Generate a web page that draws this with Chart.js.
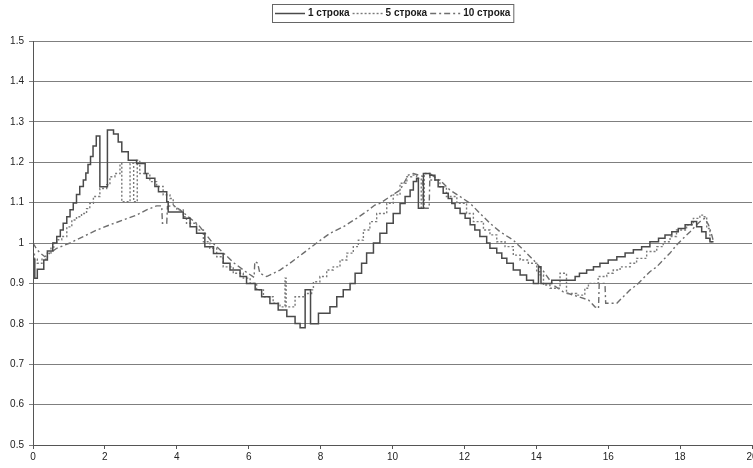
<!DOCTYPE html>
<html>
<head>
<meta charset="utf-8">
<script src="https://cdn.jsdelivr.net/npm/chart.js@4.4.1/dist/chart.umd.min.js"></script>
<style>
  html, body { margin: 0; padding: 0; background: #fff; overflow: hidden; }
  #wrap { width: 753px; height: 468px; }
</style>
</head>
<body>
<div id="wrap"><canvas id="c" width="753" height="468"></canvas></div>
<script>
// ---- data ----
const seriesLabels = ['1 строка', '5 строка', '10 строка'];
const xTickValues = [0, 2, 4, 6, 8, 10, 12, 14, 16, 18, 20];
const yTickLabels = ['0.5', '0.6', '0.7', '0.8', '0.9', '1', '1.1', '1.2', '1.3', '1.4', '1.5'];

// [x, y] pairs, each y holds from its x until the next x (steps)
const row1 = [
  [0,1.0],[0.05,0.96],[0.12,0.913],[0.3,0.935],[0.4,0.958],[0.55,0.98],[0.66,1.0],[0.76,1.016],
  [0.84,1.032],[0.94,1.049],[1.03,1.065],[1.12,1.082],[1.21,1.099],[1.3,1.12],[1.4,1.14],[1.47,1.156],
  [1.53,1.173],[1.6,1.194],[1.67,1.214],[1.76,1.24],[1.86,1.265],[2.07,1.139],[2.24,1.28],[2.37,1.27],
  [2.47,1.25],[2.65,1.226],[2.88,1.205],[3.12,1.197],[3.16,1.172],[3.39,1.16],[3.49,1.14],[3.72,1.127],
  [3.76,1.102],[4.18,1.077],[4.37,1.061],[4.55,1.04],[4.78,1.024],[5.02,0.991],[5.29,0.974],[5.48,0.95],
  [5.76,0.933],[5.94,0.917],[6.18,0.9],[6.36,0.884],[6.59,0.867],[6.82,0.85],[7.06,0.834],[7.29,0.818],
  [7.43,0.801],[7.57,0.79],[7.72,0.884],[7.94,0.80],[8.26,0.826],[8.45,0.842],[8.63,0.867],[8.82,0.884],
  [8.96,0.9],[9.14,0.925],[9.28,0.95],[9.47,0.975],[9.65,1.0],[9.84,1.024],[10.02,1.049],[10.21,1.073],
  [10.35,1.098],[10.49,1.115],[10.58,1.131],[10.67,1.152],[10.72,1.16],[10.86,1.086],[11.04,1.172],
  [11.18,1.168],[11.27,1.156],[11.41,1.139],[11.55,1.123],[11.65,1.11],[11.74,1.098],[11.88,1.086],
  [12.02,1.073],[12.16,1.061],[12.29,1.045],[12.43,1.032],[12.62,1.016],[12.71,1.0],[12.9,0.987],
  [13.04,0.975],[13.18,0.962],[13.36,0.95],[13.55,0.933],[13.73,0.921],[13.92,0.908],[14.06,0.9],
  [14.13,0.941],[14.43,0.9],[15.08,0.908],[15.2,0.917],[15.4,0.925],[15.59,0.933],[15.77,0.941],
  [16.0,0.95],[16.24,0.958],[16.47,0.966],[16.7,0.975],[16.93,0.983],[17.16,0.991],[17.4,1.003],
  [17.58,1.012],[17.77,1.02],[17.95,1.028],[18.14,1.036],[18.32,1.045],[18.46,1.053],[18.6,1.04],
  [18.72,1.028],[18.83,1.012],[18.93,1.003]
];

const row5 = [
  [0,1.0],[0.04,0.975],[0.12,0.96],[0.25,0.95],[0.4,0.96],[0.5,0.975],[0.58,0.99],[0.66,1.0],
  [0.8,1.008],[0.94,1.016],[1.08,1.04],[1.21,1.057],[1.35,1.065],[1.49,1.073],[1.58,1.085],[1.68,1.098],
  [1.86,1.115],[2.05,1.135],[2.14,1.144],[2.28,1.164],[2.42,1.172],[2.47,1.197],[2.7,1.102],[2.8,1.197],
  [2.9,1.102],[2.97,1.205],[3.25,1.172],[3.44,1.152],[3.62,1.14],[3.81,1.119],[3.9,1.11],[4.0,1.09],
  [4.18,1.082],[4.27,1.065],[4.55,1.049],[4.74,1.032],[4.92,1.003],[5.11,0.987],[5.29,0.966],[5.57,0.941],
  [5.85,0.925],[6.04,0.913],[6.22,0.9],[6.41,0.884],[6.68,0.867],[6.87,0.851],[7.01,0.842],[7.04,0.913],
  [7.29,0.842],[7.57,0.867],[7.75,0.875],[7.8,0.884],[7.98,0.904],[8.17,0.917],[8.35,0.933],[8.54,0.941],
  [8.73,0.958],[8.91,0.975],[9.05,0.991],[9.19,1.007],[9.37,1.032],[9.56,1.053],[9.84,1.073],[10.02,1.098],
  [10.21,1.119],[10.4,1.148],[10.53,1.164],[10.67,1.168],[10.8,1.16],[10.88,1.086],[11.04,1.172],
  [11.32,1.156],[11.5,1.139],[11.79,1.115],[12.06,1.098],[12.25,1.073],[12.53,1.053],[12.71,1.032],
  [12.9,1.02],[13.13,1.003],[13.36,0.991],[13.55,0.97],[13.78,0.958],[14.01,0.95],[14.1,0.929],
  [14.2,0.921],[14.38,0.896],[14.66,0.888],[14.84,0.925],[15.12,0.875],[15.35,0.871],[15.45,0.888],
  [15.72,0.9],[15.96,0.917],[16.14,0.925],[16.33,0.933],[16.61,0.941],[16.79,0.95],[17.07,0.962],
  [17.35,0.979],[17.53,0.991],[17.72,1.003],[17.9,1.016],[18.18,1.032],[18.37,1.045],[18.55,1.061],
  [18.65,1.069],[18.74,1.065],[18.83,1.036],[18.93,1.003]
];

const row10 = [
  [0,1.0],[0.1,0.985],[0.2,0.975],[0.33,0.966],[0.66,0.987],[1.03,1.0],[1.4,1.016],[1.77,1.032],
  [2.14,1.045],[2.51,1.057],[2.88,1.069],[3.16,1.082],[3.44,1.092],[3.58,1.092],[3.6,1.049],[3.72,1.049],
  [3.74,1.09],[3.9,1.094],[4.09,1.082],[4.32,1.065],[4.6,1.045],[5.0,1.0],[5.3,0.975],[5.6,0.95],
  [5.9,0.93],[6.15,0.915],[6.17,0.954],[6.25,0.95],[6.31,0.925],[6.5,0.917],[6.87,0.933],[7.15,0.95],
  [7.52,0.975],[7.89,1.0],[8.26,1.024],[8.63,1.04],[9.0,1.061],[9.28,1.078],[9.51,1.094],[9.65,1.098],
  [9.93,1.115],[10.21,1.131],[10.44,1.168],[10.58,1.172],[10.84,1.165],[10.86,1.086],[11.02,1.086],
  [11.04,1.172],[11.41,1.148],[11.6,1.131],[11.88,1.115],[12.16,1.098],[12.45,1.072],[12.71,1.049],
  [12.99,1.028],[13.36,1.007],[13.64,0.983],[13.92,0.958],[14.2,0.93],[14.47,0.896],[14.75,0.879],
  [15.03,0.871],[15.45,0.859],[15.63,0.842],[15.73,0.838],[15.75,0.9],[15.91,0.9],[15.93,0.851],
  [16.24,0.851],[16.42,0.867],[16.61,0.884],[16.79,0.896],[16.98,0.913],[17.16,0.929],[17.35,0.941],
  [17.53,0.958],[17.72,0.975],[17.9,0.995],[18.09,1.012],[18.28,1.028],[18.46,1.045],[18.6,1.057],
  [18.69,1.061],[18.79,1.045],[18.88,1.02],[18.93,1.003]
];

const toPts = arr => arr.map(p => ({ x: p[0], y: p[1] }));
const FONT = '"Liberation Sans", Arial, sans-serif';

const boxLegend = {
  id: 'boxLegend',
  afterDraw(chart) {
    const ctx = chart.ctx;
    ctx.save();
    ctx.font = 'bold 10px ' + FONT;
    ctx.textBaseline = 'middle';
    const startX = 275, cy = 13.5;
    let x = startX;
    chart.data.datasets.forEach(ds => {
      ctx.strokeStyle = ds.borderColor;
      ctx.lineWidth = ds.borderWidth;
      ctx.setLineDash(ds.borderDash || []);
      ctx.beginPath(); ctx.moveTo(x, cy); ctx.lineTo(x + 30, cy); ctx.stroke();
      ctx.setLineDash([]);
      x += 33;
      ctx.fillStyle = '#1a1a1a';
      ctx.fillText(ds.label, x, cy);
      x += ctx.measureText(ds.label).width + 3;
    });
    ctx.strokeStyle = '#666';
    ctx.lineWidth = 1;
    ctx.strokeRect(272.5, 4.5, x - 272, 18);
    ctx.restore();
  }
};

new Chart(document.getElementById('c'), {
  type: 'line',
  data: {
    datasets: [
      { label: seriesLabels[0], data: toPts(row1), stepped: 'after', borderColor: '#4a4a4a', borderWidth: 1.5, pointRadius: 0, fill: false },
      { label: seriesLabels[1], data: toPts(row5), stepped: 'after', borderColor: '#7a7a7a', borderWidth: 1.4, borderDash: [2, 2], pointRadius: 0, fill: false },
      { label: seriesLabels[2], data: toPts(row10), borderColor: '#6e6e6e', borderWidth: 1.4, borderDash: [6, 3, 2, 3], pointRadius: 0, fill: false, tension: 0 }
    ]
  },
  options: {
    responsive: false,
    animation: false,
    devicePixelRatio: 1,
    layout: { padding: { top: 41, left: 0, right: 1, bottom: 0 } },
    plugins: { legend: { display: false }, tooltip: { enabled: false } },
    scales: {
      x: {
        type: 'linear', min: 0, max: 20,
        afterBuildTicks: axis => { axis.ticks = xTickValues.map(v => ({ value: v })); },
        afterFit: axis => { axis.height = 23; axis.paddingLeft = 0; axis.paddingRight = 0; },
        ticks: { color: '#222', font: { family: FONT, size: 10 }, padding: 2, maxRotation: 0, autoSkip: false },
        grid: { drawOnChartArea: false, drawTicks: true, tickLength: 4, color: '#555' },
        border: { display: true, color: '#555', width: 1 }
      },
      y: {
        type: 'linear', min: 0.5, max: 1.5,
        afterBuildTicks: axis => { axis.ticks = yTickLabels.map(t => ({ value: parseFloat(t) })); },
        afterFit: axis => { axis.width = 33; },
        ticks: { color: '#222', font: { family: FONT, size: 10 }, padding: 5, autoSkip: false,
                 callback: (v, i) => yTickLabels[i] },
        grid: { color: '#7f7f7f', lineWidth: 1, drawTicks: true, tickLength: 4 },
        border: { display: true, color: '#555', width: 1 }
      }
    }
  },
  plugins: [boxLegend]
});
</script>
</body>
</html>
